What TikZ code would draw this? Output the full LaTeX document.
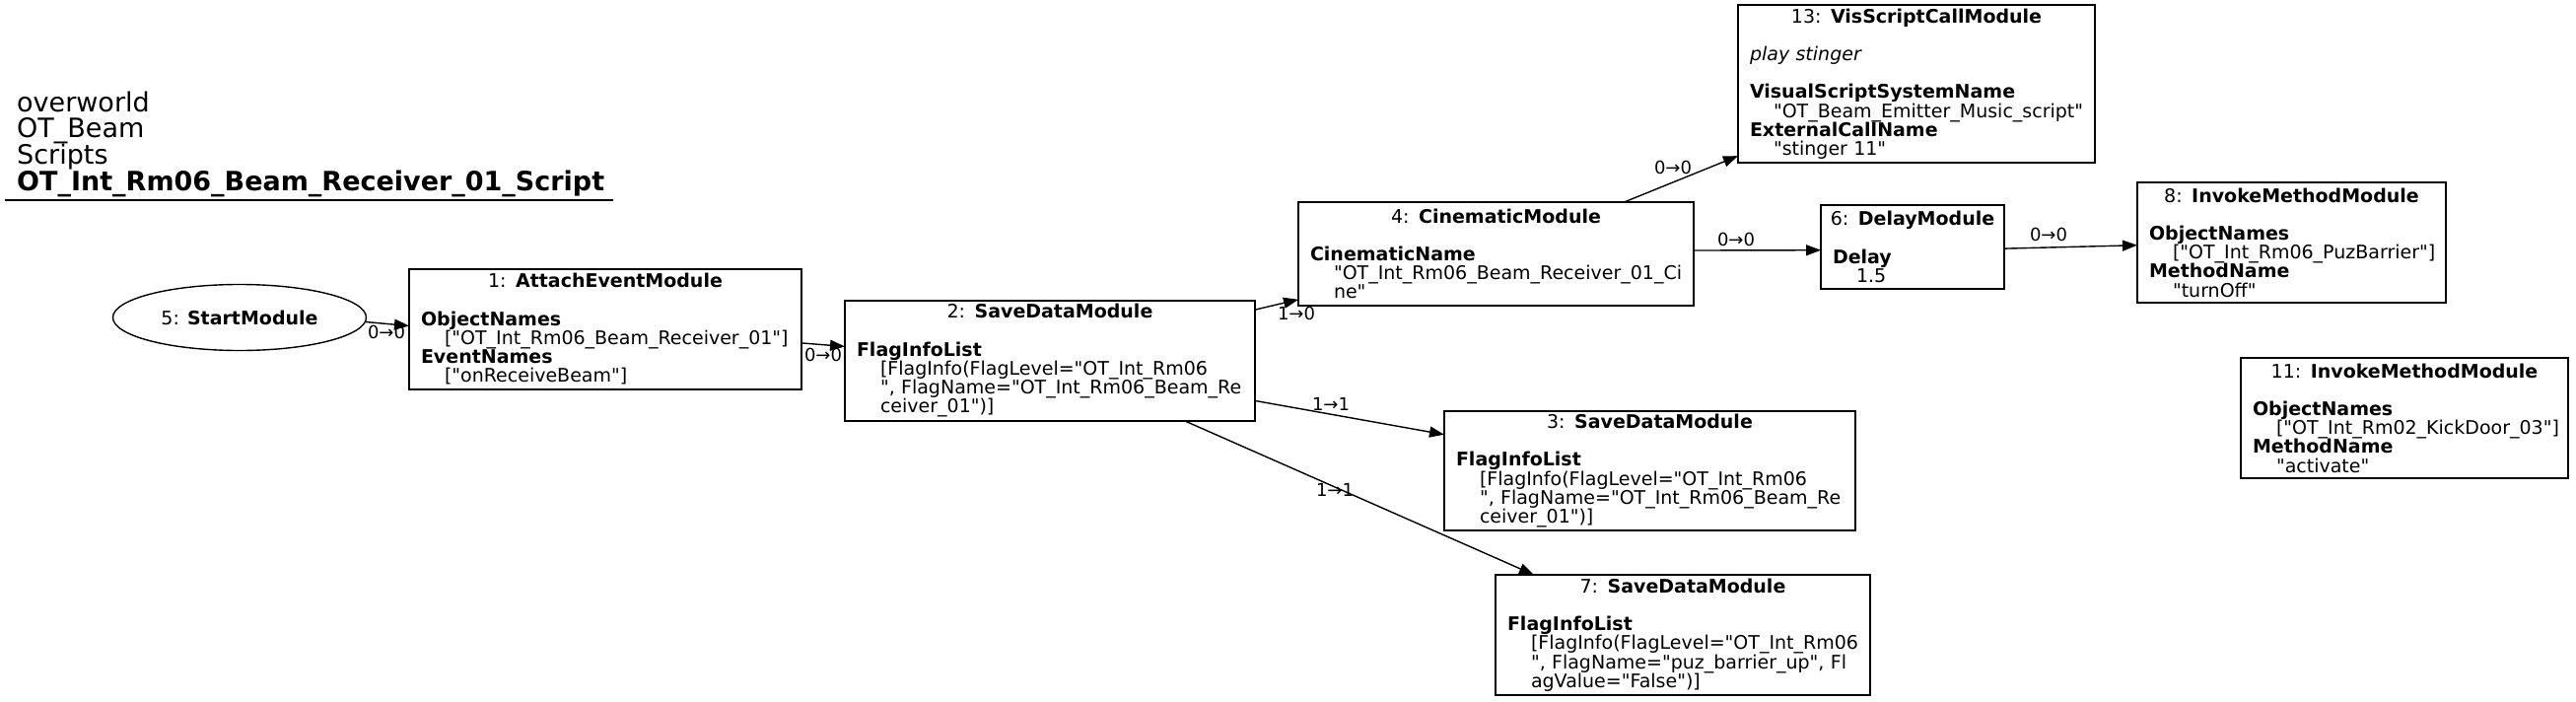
\documentclass[tikz,border=0pt]{standalone}
\usepackage{fontspec}
\setmainfont{DejaVu Sans}[Ligatures=TeXOff]
\usetikzlibrary{arrows.meta,shapes.geometric}

\newcommand{\nodefont}{\fontsize{19}{19.2}\selectfont}
\newcommand{\lblfont}{\fontsize{18}{19}\selectfont}
\newcommand{\headfont}{\fontsize{27}{26.7}\selectfont}
\newcommand{\modtitle}[2]{\makebox[\linewidth]{#1: \textbf{#2}}}
\newcommand{\fld}[1]{\textbf{#1}}
\newcommand{\val}[1]{\hspace*{24pt}\mbox{#1}}
\newcommand{\gap}{\\[19.2pt]}

\begin{document}
\begin{tikzpicture}[x=1pt, y=-1pt,
    mod/.style={draw, rectangle, line width=1.4pt, inner xsep=12pt, inner ysep=0pt,
        outer sep=0pt, align=left, font=\nodefont, anchor=north west},
    startmod/.style={draw, ellipse, line width=1.4pt, inner sep=0pt, outer sep=0pt,
        font=\nodefont, minimum width=257pt, minimum height=67pt},
    link/.style={-{Triangle[length=15pt,width=11pt]}, line width=1.4pt},
    lbl/.style={font=\lblfont, inner sep=0pt},
    headline/.style={font=\headfont, inner sep=0pt, anchor=base west}]
    \useasboundingbox (0,0) rectangle (2613,712);

    % 标题
    \node[headline] (h1) at (17,113) {overworld};
    \node[headline] (h2) at (17,139.7) {OT\_Beam};
    \node[headline] (h3) at (17,166.4) {Scripts};
    \node[headline] (h4) at (17,193) {\textbf{OT\_Int\_Rm06\_Beam\_Receiver\_01\_Script}};
    \draw[line width=1.4pt] (5,203) -- (622,203);

    % 模块节点
    \node[startmod] (n5) at (243,322) {5: \textbf{StartModule}};
    \node[mod, text width=374pt, minimum height=122pt] (n1) at (415,273)
        {\modtitle{1}{AttachEventModule}\gap \fld{ObjectNames}\\
         \val{["OT\_Int\_Rm06\_Beam\_Receiver\_01"]}\\ \fld{EventNames}\\
         \val{["onReceiveBeam"]}};
    \node[mod, text width=392pt, minimum height=122pt] (n2) at (857,305)
        {\modtitle{2}{SaveDataModule}\gap \fld{FlagInfoList}\\
         \val{[FlagInfo(FlagLevel="OT\_Int\_Rm06}\\
         \val{", FlagName="OT\_Int\_Rm06\_Beam\_Re}\\ \val{ceiver\_01")]}};
    \node[mod, text width=377pt, minimum height=105pt] (n4) at (1317,205)
        {\modtitle{4}{CinematicModule}\gap \fld{CinematicName}\\
         \val{"OT\_Int\_Rm06\_Beam\_Receiver\_01\_Ci}\\ \val{ne"}};
    \node[mod, text width=338pt, minimum height=160pt] (n13) at (1763,5)
        {\modtitle{13}{VisScriptCallModule}\gap \textit{play stinger}\gap
         \fld{VisualScriptSystemName}\\ \val{"OT\_Beam\_Emitter\_Music\_script"}\\
         \fld{ExternalCallName}\\ \val{"stinger 11"}};
    \node[mod, text width=162pt, minimum height=85pt] (n6) at (1847,208)
        {\modtitle{6}{DelayModule}\gap \fld{Delay}\\ \val{1.5}};
    \node[mod, text width=289pt, minimum height=122pt] (n8) at (2168,185)
        {\modtitle{8}{InvokeMethodModule}\gap \fld{ObjectNames}\\
         \val{["OT\_Int\_Rm06\_PuzBarrier"]}\\ \fld{MethodName}\\ \val{"turnOff"}};
    \node[mod, text width=308pt, minimum height=122pt] (n11) at (2273,363)
        {\modtitle{11}{InvokeMethodModule}\gap \fld{ObjectNames}\\
         \val{["OT\_Int\_Rm02\_KickDoor\_03"]}\\ \fld{MethodName}\\ \val{"activate"}};
    \node[mod, text width=393pt, minimum height=121pt] (n3) at (1465,417)
        {\modtitle{3}{SaveDataModule}\gap \fld{FlagInfoList}\\
         \val{[FlagInfo(FlagLevel="OT\_Int\_Rm06}\\
         \val{", FlagName="OT\_Int\_Rm06\_Beam\_Re}\\ \val{ceiver\_01")]}};
    \node[mod, text width=356pt, minimum height=122pt] (n7) at (1517,583)
        {\modtitle{7}{SaveDataModule}\gap \fld{FlagInfoList}\\
         \val{[FlagInfo(FlagLevel="OT\_Int\_Rm06}\\
         \val{", FlagName="puz\_barrier\_up", Fl}\\ \val{agValue="False")]}};

    % 连线
    \draw[link] (n5.-2) -- (n1.179);
    \draw[link] (n1.-4) -- (n2.176);
    \draw[link] (n2.14) -- (n4.193);
    \draw[link] (n4.22) -- (n13.202);
    \draw[link] (n4.1) -- (n6.182);
    \draw[link] (n6.-1) -- (n8.181);
    \draw[link] (n2.-11) -- (n3.170);
    \draw[link] (n2.-24) -- (n7.158);

    % 连线标注
    \node[lbl] (e1) at (392,337) {0→0};
    \node[lbl] (e2) at (835,360) {0→0};
    \node[lbl] (e3) at (1315,318) {1→0};
    \node[lbl] (e4) at (1697,170) {0→0};
    \node[lbl] (e5) at (1761,243) {0→0};
    \node[lbl] (e6) at (2078,238) {0→0};
    \node[lbl] (e7) at (1350,410) {1→1};
    \node[lbl] (e8) at (1354,497) {1→1};
\end{tikzpicture}
\end{document}
